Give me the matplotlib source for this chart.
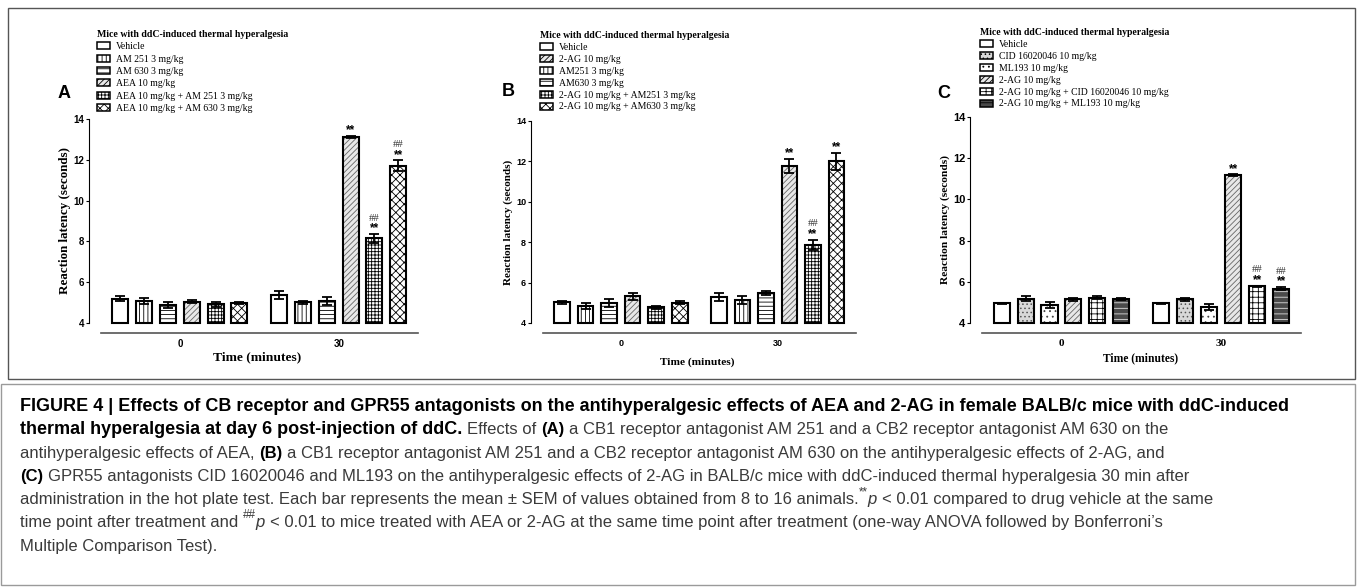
import matplotlib
matplotlib.use('Agg')
import matplotlib.pyplot as plt
from matplotlib.patches import Patch, Rectangle
from matplotlib.font_manager import FontProperties
import numpy as np

W, H = 1357, 587
plt.rcParams['hatch.linewidth'] = 0.6

TIMES = ['0', '30']
YMIN, YMAX = 4, 14
GAP = 6.67  # distance between the two time groups, in bar slots
LEG_TITLE = 'Mice with ddC-induced thermal hyperalgesia'

# ---- panel A (bar order = legend order)
A_LABELS = ['Vehicle', 'AM 251 3 mg/kg', 'AM 630 3 mg/kg', 'AEA 10 mg/kg',
            'AEA 10 mg/kg + AM 251 3 mg/kg', 'AEA 10 mg/kg + AM 630 3 mg/kg']
A_MEAN_0 = [5.20, 5.08, 4.90, 5.05, 4.92, 4.97]
A_SEM_0 = [0.13, 0.14, 0.15, 0.08, 0.12, 0.05]
A_MEAN_30 = [5.38, 5.02, 5.08, 13.13, 8.15, 11.72]
A_SEM_30 = [0.18, 0.07, 0.18, 0.05, 0.22, 0.25]
A_STARS = ['', '', '', '**', '**', '**']
A_HASH = ['', '', '', '', '##', '##']

# ---- panel B (legend order differs from bar order)
B_LABELS = ['Vehicle', 'AM251 3 mg/kg', 'AM630 3 mg/kg', '2-AG 10 mg/kg',
            '2-AG 10 mg/kg + AM251 3 mg/kg', '2-AG 10 mg/kg + AM630 3 mg/kg']
B_LEGEND = ['Vehicle', '2-AG 10 mg/kg', 'AM251 3 mg/kg', 'AM630 3 mg/kg',
            '2-AG 10 mg/kg + AM251 3 mg/kg', '2-AG 10 mg/kg + AM630 3 mg/kg']
B_MEAN_0 = [5.02, 4.85, 4.97, 5.32, 4.78, 5.00]
B_SEM_0 = [0.08, 0.16, 0.20, 0.16, 0.07, 0.08]
B_MEAN_30 = [5.30, 5.12, 5.47, 11.78, 7.88, 12.00]
B_SEM_30 = [0.20, 0.20, 0.09, 0.35, 0.25, 0.44]
B_STARS = ['', '', '', '**', '**', '**']
B_HASH = ['', '', '', '', '##', '']

# ---- panel C
C_LABELS = ['Vehicle', 'CID 16020046 10 mg/kg', 'ML193 10 mg/kg', '2-AG 10 mg/kg',
            '2-AG 10 mg/kg + CID 16020046 10 mg/kg', '2-AG 10 mg/kg + ML193 10 mg/kg']
C_MEAN_0 = [4.95, 5.17, 4.87, 5.15, 5.22, 5.17]
C_SEM_0 = [0.02, 0.12, 0.14, 0.08, 0.07, 0.06]
C_MEAN_30 = [4.95, 5.15, 4.78, 11.17, 5.78, 5.67]
C_SEM_30 = [0.02, 0.06, 0.13, 0.04, 0.04, 0.08]
C_STARS = ['', '', '', '**', '**', '**']
C_HASH = ['', '', '', '', '##', '##']

# fill styles per bar (face colour, hatch, hatch colour)
AB_STYLE = [('white', '', 'black'), ('white', '||||', 'black'), ('white', '----', 'black'),
            ('#e8e8e8', '//////', '#666666'), ('white', '+++++', 'black'), ('white', 'xxxx', 'black')]
C_STYLE = [('white', '', 'black'), ('#d8d8d8', '....', '#555555'), ('white', '...', '#444444'),
           ('#e8e8e8', '//////', '#666666'), ('white', '+++', 'black'), ('#4a4a4a', '---', '#dddddd')]

CAPTION = [
    [("FIGURE 4 | Effects of CB receptor and GPR55 antagonists on the antihyperalgesic effects of AEA and 2-AG in female BALB/c mice with ddC-induced", 'b')],
    [("thermal hyperalgesia at day 6 post-injection of ddC.", 'b'), (" Effects of ", 'n'), ("(A)", 'bs'),
     (" a CB1 receptor antagonist AM 251 and a CB2 receptor antagonist AM 630 on the", 'n')],
    [("antihyperalgesic effects of AEA, ", 'n'), ("(B)", 'bs'),
     (" a CB1 receptor antagonist AM 251 and a CB2 receptor antagonist AM 630 on the antihyperalgesic effects of 2-AG, and", 'n')],
    [("(C)", 'bs'), (" GPR55 antagonists CID 16020046 and ML193 on the antihyperalgesic effects of 2-AG in BALB/c mice with ddC-induced thermal hyperalgesia 30 min after", 'n')],
    [("administration in the hot plate test. Each bar represents the mean \u00b1 SEM of values obtained from 8 to 16 animals.", 'n'),
     ("**", 'sup'), ("p", 'i'), (" < 0.01 compared to drug vehicle at the same", 'n')],
    [("time point after treatment and ", 'n'), ("##", 'sup'), ("p", 'i'),
     (" < 0.01 to mice treated with AEA or 2-AG at the same time point after treatment (one-way ANOVA followed by Bonferroni\u2019s", 'n')],
    [("Multiple Comparison Test).", 'n')],
]

SERIF = 'Liberation Serif'
SANS = 'Liberation Sans'


def fx(px):
    return px / W


def fy(py):
    return 1 - py / H


def draw_panel(rect, letter, letter_xy, labels, legend_labels, m0, s0, m30, s30,
               stars, hashes, styles, fs, tick_font, leg_xy, leg_space, ylab_x, xlab_xy):
    left, top, right, bottom = rect
    ax = fig.add_axes([fx(left), fy(bottom), fx(right - left), (bottom - top) / H])
    x0 = np.arange(len(labels))
    x30 = x0 + GAP
    for xs, m, s in ((x0, m0, s0), (x30, m30, s30)):
        heights = np.array(m) - YMIN
        fill = ax.bar(xs, heights, bottom=YMIN, width=0.67, linewidth=0, zorder=2)
        for p, (fc, h, hc) in zip(fill, styles):
            p.set_facecolor(fc)
            p.set_hatch(h)
            p.set_edgecolor(hc)
        ax.bar(xs, heights, bottom=YMIN, width=0.67, fill=False, edgecolor='black',
               linewidth=1.5, zorder=3, clip_on=False)
        ax.errorbar(xs, m, yerr=s, fmt='none', ecolor='black', elinewidth=1.3,
                    capsize=3.3, capthick=1.3, zorder=4, clip_on=False)
    for i in range(len(labels)):
        top_v = m30[i] + s30[i]
        if stars[i]:
            ax.annotate(stars[i], (x30[i], top_v), xytext=(0, -0.5), textcoords='offset points',
                        ha='center', va='bottom', fontsize=fs['star'], fontweight='bold',
                        family=SANS, annotation_clip=False)
        if hashes[i]:
            ax.annotate(hashes[i], (x30[i], top_v), xytext=(0, 8), textcoords='offset points',
                        ha='center', va='bottom', fontsize=fs['star'] - 0.8, color='#333333',
                        family=SERIF, annotation_clip=False)

    ax.set_xlim(-1.32, 12.5)
    ax.set_ylim(YMIN, YMAX)
    for side in ('top', 'right'):
        ax.spines[side].set_visible(False)
    ax.spines['left'].set_bounds(YMIN, YMAX)
    ax.spines['bottom'].set_position(('outward', 7.2))
    ax.spines['bottom'].set_bounds(-0.82, 12.5)
    ax.spines['bottom'].set_color('#555555')
    ax.spines['bottom'].set_linewidth(1.2)
    ax.set_yticks(np.arange(YMIN, YMAX + 1, 2))
    ax.set_xticks([x0.mean(), x30.mean()])
    ax.set_xticklabels(TIMES)
    ax.tick_params(axis='y', length=2.5, width=0.8, pad=1, labelsize=fs['tick'])
    ax.tick_params(axis='x', length=0, pad=4, labelsize=fs['xtick'])
    for t in ax.get_yticklabels():
        t.set_fontweight('bold')
        t.set_family(SANS)
    for t in ax.get_xticklabels():
        t.set_fontweight('bold')
        t.set_family(tick_font)
    ax.set_ylabel('Reaction latency (seconds)', fontsize=fs['ylabel'], fontweight='bold', family=SERIF)
    ax.yaxis.set_label_coords(ylab_x, 0.5)
    ax.yaxis.label.set_va('center')
    ax.set_xlabel('Time (minutes)', fontsize=fs['xlabel'], fontweight='bold', family=SERIF)
    ax.xaxis.set_label_coords(*xlab_xy)
    ax.xaxis.label.set_va('center')
    ax.patch.set_alpha(0)

    handles = []
    for lab in legend_labels:
        fc, h, hc = styles[labels.index(lab)]
        handles.append(Patch(facecolor=fc, hatch=h, edgecolor='black', linewidth=1.1, label=lab))
    fig.legend(handles=handles, loc='upper left', bbox_to_anchor=(fx(leg_xy[0]), fy(leg_xy[1])),
               bbox_transform=fig.transFigure, frameon=False, borderpad=0, borderaxespad=0,
               title=LEG_TITLE, alignment='left', handlelength=1.35, handleheight=0.75,
               handletextpad=0.6, labelspacing=leg_space,
               prop={'family': SERIF, 'size': fs['legend']},
               title_fontproperties={'family': SERIF, 'size': fs['title'], 'weight': 'bold'})
    fig.text(fx(letter_xy[0]), fy(letter_xy[1]), letter, ha='center', va='center',
             fontsize=13, fontweight='bold', family=SANS)
    return ax


fig = plt.figure(figsize=(W / 100, H / 100), dpi=100)

draw_panel((89, 119, 418, 323), 'A', (64, 94), A_LABELS, A_LABELS,
           A_MEAN_0, A_SEM_0, A_MEAN_30, A_SEM_30, A_STARS, A_HASH, AB_STYLE,
           {'tick': 7, 'xtick': 7, 'ylabel': 9.4, 'xlabel': 9.7, 'legend': 7, 'title': 7.1, 'star': 8.5},
           SANS, (97, 30), 0.34, -0.073, (0.51, -0.17))
draw_panel((531, 121, 856, 323), 'B', (508, 91), B_LABELS, B_LEGEND,
           B_MEAN_0, B_SEM_0, B_MEAN_30, B_SEM_30, B_STARS, B_HASH, AB_STYLE,
           {'tick': 6.5, 'xtick': 6.5, 'ylabel': 8, 'xlabel': 8.2, 'legend': 7, 'title': 7, 'star': 8.5},
           SANS, (540, 31), 0.3, -0.071, (0.51, -0.193))
draw_panel((970, 117, 1301, 323), 'C', (944, 94), C_LABELS, C_LABELS,
           C_MEAN_0, C_SEM_0, C_MEAN_30, C_SEM_30, C_STARS, C_HASH, C_STYLE,
           {'tick': 8, 'xtick': 8, 'ylabel': 8.2, 'xlabel': 8.3, 'legend': 7, 'title': 7, 'star': 8.5},
           SERIF, (980, 28), 0.3, -0.076, (0.514, -0.17))

# frames around the figure and the caption
fig.add_artist(Rectangle((fx(8), fy(379)), fx(1347), (379 - 8) / H, transform=fig.transFigure,
                         fill=False, edgecolor='#555555', linewidth=1))
fig.add_artist(Rectangle((fx(1), fy(585)), fx(1354), (585 - 384) / H, transform=fig.transFigure,
                         fill=False, edgecolor='#9a9a9a', linewidth=1))

# caption, drawn piece by piece so bold / italic / superscript can mix on a line
r = fig.canvas.get_renderer()
BOLD_SIZE = 13.0
CAP_SIZE = 12.0


def seg_props(kind):
    if kind == 'b':
        return FontProperties(family=SANS, weight='bold', size=BOLD_SIZE), '#000000', 0
    if kind == 'bs':
        return FontProperties(family=SANS, weight='bold', size=CAP_SIZE), '#000000', 0
    if kind == 'i':
        return FontProperties(family=SANS, style='italic', size=CAP_SIZE), '#3a3a3a', 0
    if kind == 'sup':
        return FontProperties(family=SANS, size=CAP_SIZE * 0.7), '#3a3a3a', CAP_SIZE * 0.55
    return FontProperties(family=SANS, size=CAP_SIZE), '#3a3a3a', 0


def advance(s, fp):
    wx = r.get_text_width_height_descent('x' + s + 'x', fp, ismath=False)[0]
    w0 = r.get_text_width_height_descent('xx', fp, ismath=False)[0]
    return wx - w0


for li, line in enumerate(CAPTION):
    x = 20.0
    base = 411 + 23.3 * li
    for s, kind in line:
        fp, col, rise = seg_props(kind)
        sp = advance(' ', fp)
        core = s.strip()
        x += (len(s) - len(s.lstrip())) * sp
        fig.text(fx(x), fy(base - rise * 100 / 72), core, fontproperties=fp, color=col,
                 ha='left', va='baseline')
        x += advance(core, fp)
        x += (len(s) - len(s.rstrip())) * sp

fig.savefig('out.png', dpi=100)
